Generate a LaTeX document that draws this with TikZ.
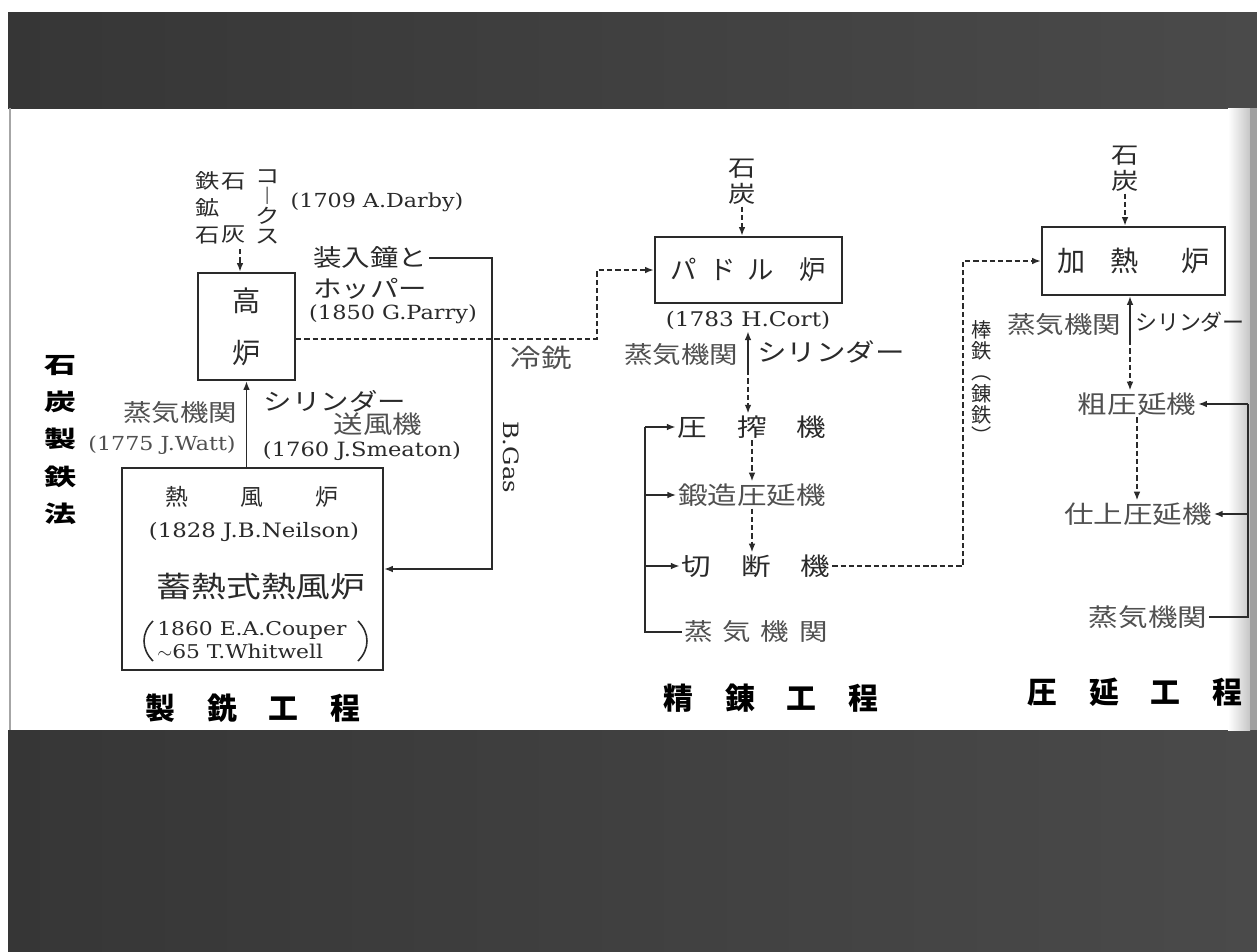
\documentclass[tikz,border=0pt]{standalone}
\usepackage{fontspec}
\setmainfont[FakeStretch=1.15]{DejaVu Serif}
\newfontfamily\jp[FakeStretch=1.2]{Noto Sans CJK JP}
\newfontfamily\jpn{Noto Sans CJK JP}
\usetikzlibrary{arrows.meta,calc}
\newlength\pxu \setlength\pxu{0.02cm}
\newcommand\pgap[1]{\hspace*{#1\pxu}}
\newcommand\fj[2]{\jp\fontsize{#1}{#2}\selectfont}
\newcommand\fn[2]{\jpn\fontsize{#1}{#2}\selectfont}
\newcommand\fl[1]{\fontsize{#1}{#1}\selectfont}
\definecolor{ink}{HTML}{2A2A2A}
\definecolor{lite}{HTML}{505050}
\definecolor{bandA}{HTML}{363636}
\definecolor{bandB}{HTML}{4A4A4A}
\begin{document}
\begin{tikzpicture}[x=0.02cm,y=-0.02cm,
  t/.style={inner sep=1pt, text=ink, align=center},
  tl/.style={t, text=lite},
  box/.style={draw=ink, line width=1.3pt, inner sep=0pt, align=center, text=ink},
  line/.style={draw=ink, line width=0.85pt},
  arr/.style={line, -{Latex[length=5pt,width=3.8pt]}},
  dline/.style={draw=ink, line width=1.1pt, dash pattern=on 3pt off 1.7pt},
  darr/.style={dline, -{Latex[length=5pt,width=3.8pt]}},
  ttl/.style={t, text=black, font={\jpn\bfseries\fontsize{17}{20}\selectfont}}]
\useasboundingbox (0,0) rectangle (1257,951);
\fill[white] (0,0) rectangle (1257,951);
% dark bands of the photograph
\shade[left color=bandA, right color=bandB] (8,12) rectangle (1257,108);
\shade[left color=bandA, right color=bandB] (8,730) rectangle (1257,951);
% page edges
\draw[gray!70, line width=1pt] (10,108) -- (10,730);
\shade[left color=white, right color=gray!45] (1228,108) rectangle (1250,730);
\fill[gray!75] (1250,108) rectangle (1257,730);

% ---------- left title ----------
\node[t, text=black, font={\jpn\bfseries\fontsize{13}{21.3}\selectfont}, xscale=1.4, transform shape] (title) at (60,440) {石\\炭\\製\\鉄\\法};

% ---------- smelting ----------
\node[t, font={\fj{11.5}{15.3}}] (ore) at (208,208) {鉄\\鉱\\石};
\node[t, font={\fj{11.5}{30.6}}] (lime) at (234,208) {石\\灰};
\node[t, font={\fj{11.5}{11.3}}] (coke) at (268,207) {コ\\︱\\ク\\ス};
\node[t, font=\fl{11}] (darby) at (377,202) {(1709 A.Darby)};
\coordinate (inp) at (240,249);

\node[box, minimum width=1.94cm, minimum height=2.14cm, font={\fn{16}{29.5}}] (bf) at (246.5,326.5) {高\\炉};

\node[t, font={\fj{13.5}{16}}] (bell) at (370,258) {装入鐘と};
\node[t, font={\fj{13.5}{16}}] (hopper) at (370,289) {ホッパー};
\node[t, font=\fl{11.1}] (parry) at (393,314) {(1850 G.Parry)};
\node[tl, font={\fj{14.5}{16}}] (lead) at (541,358) {冷銑};
\node[t, font=\fl{12}, rotate=-90] (bgas) at (511,457) {B.Gas};

\node[tl, font={\fj{13.5}{16}}] (steamA) at (180,413) {蒸気機関};
\node[tl, font=\fl{11}] (watt) at (162,445) {(1775 J.Watt)};
\node[t, font={\fj{13.5}{16}}] (cylA) at (335,401) {シリンダー};
\node[tl, font={\fj{14}{16}}] (blower) at (378,424) {送風機};
\node[t, font=\fl{11.2}] (smeaton) at (362,451) {(1760 J.Smeaton)};

\node[box, minimum width=5.22cm, minimum height=4.04cm] (hs) at (252.5,569) {};
\node[t, font={\fn{13}{16}}] (hs1) at (252,497) {熱\pgap{52}風\pgap{52}炉};
\node[t, font=\fl{11.3}] (neilson) at (254,532) {(1828 J.B.Neilson)};
\node[t, font={\fj{16.5}{18}}] (regen) at (261,587) {蓄熱式熱風炉};
\node[t, inner sep=0pt, anchor=west, font=\fl{10.8}] (cp1) at (157,630) {1860 E.A.Couper};
\node[t, inner sep=0pt, anchor=west, font=\fl{10.8}] (cp2) at (157,651) {$\sim$65 T.Whitwell};
\draw[ink, line width=0.9pt] (153,621) .. controls (141,633) and (141,649) .. (153,661);
\draw[ink, line width=0.9pt] (358,621) .. controls (370,633) and (370,649) .. (358,661);
\node[ttl] (ttlA) at (253,708) {製\pgap{32}銑\pgap{32}工\pgap{32}程};

\coordinate (c1) at (597,0);
\coordinate (c2) at (492,0);

% ---------- refining ----------
\node[t, font={\fj{13}{14.7}}] (coalA) at (742,182) {石\\炭};
\node[box, minimum width=3.74cm, minimum height=1.32cm, font={\fn{15}{18}}] (pd) at (748.5,270) {パ\pgap{12}ド\pgap{12}ル\pgap{26}炉};
\node[t, font=\fl{11.5}] (cort) at (748,320) {(1783 H.Cort)};
\node[tl, font={\fj{13.5}{16}}] (steamB) at (681,355) {蒸気機関};
\node[t, font={\fj{14}{16}}] (cylB) at (831,352) {シリンダー};
\coordinate (pse) at (748,370);
\node[t, font={\fj{14}{16}}] (m1) at (752,427) {圧\pgap{30}搾\pgap{30}機};
\node[tl, font={\fj{14}{16}}] (m2) at (752,495) {鍛造圧延機};
\node[t, font={\fj{14}{16}}] (m3) at (756,566) {切\pgap{30}断\pgap{30}機};
\node[tl, font={\fj{13.5}{16}}] (m4) at (756,632) {蒸\pgap{10}気\pgap{10}機\pgap{10}関};
\coordinate (lb) at (645,0);
\node[ttl] (ttlB) at (771,698) {精\pgap{32}錬\pgap{32}工\pgap{32}程};

\coordinate (c3) at (963,0);
\node[t, font={\fn{11.5}{12}}] (bar) at (982,382) {棒\\鉄\\︵\\錬\\鉄\\︶};

% ---------- rolling ----------
\node[t, font={\fj{13}{14.7}}] (coalB) at (1125,169) {石\\炭};
\node[box, minimum width=3.66cm, minimum height=1.36cm, font={\fn{16}{18}}] (rh) at (1133.5,261) {加\pgap{25}熱\pgap{42}炉};
\node[tl, font={\fj{13.5}{16}}] (steamC) at (1064,325) {蒸気機関};
\node[t, font={\fn{12.5}{16}}] (cylC) at (1190,322) {シリンダー};
\coordinate (rse) at (1130,340);
\node[tl, font={\fj{14}{16}}] (r1) at (1137,404) {粗圧延機};
\node[tl, font={\fj{14}{16}}] (r2) at (1138,514) {仕上圧延機};
\node[tl, font={\fj{14}{16}}] (r3) at (1148,617) {蒸気機関};
\coordinate (rb) at (1248,0);
\node[ttl] (ttlC) at (1135,692) {圧\pgap{32}延\pgap{32}工\pgap{32}程};

% ---------- connectors ----------
\draw[darr] (inp) -- (inp |- bf.north);
\draw[darr] ([yshift=-0.25cm]bf.east) -| (c1 |- pd.west) -- (pd.west);
\draw[arr] (bell.east) -| (c2 |- hs.east) -- (hs.east);
\draw[arr] (hs.north -| bf.south) -- (bf.south);

\draw[darr] (coalA.south) -- (coalA.south |- pd.north);
\draw[arr] (pse) -- (pse |- cort.south);
\draw[darr] (pse) -- (pse |- m1.north);
\draw[darr] (m1.south) -- (m1.south |- m2.north);
\draw[darr] (m2.south) -- (m2.south |- m3.north);
\draw[line] (m4.west) -- (lb |- m4.west) -- (lb |- m1.west);
\draw[arr] (lb |- m1.west) -- (m1.west);
\draw[arr] (lb |- m2.west) -- (m2.west);
\draw[arr] (lb |- m3.west) -- (m3.west);
\draw[darr] (m3.east) -| (c3 |- rh.west) -- (rh.west);

\draw[darr] (coalB.south) -- (coalB.south |- rh.north);
\draw[arr] (rse) -- (rse |- rh.south);
\draw[darr] (rse) -- (rse |- r1.north);
\draw[darr] (r1.south) -- (r1.south |- r2.north);
\draw[line] (r3.east) -- (rb |- r3.east) -- (rb |- r1.east);
\draw[arr] (rb |- r1.east) -- (r1.east);
\draw[arr] (rb |- r2.east) -- (r2.east);
\end{tikzpicture}
\end{document}
